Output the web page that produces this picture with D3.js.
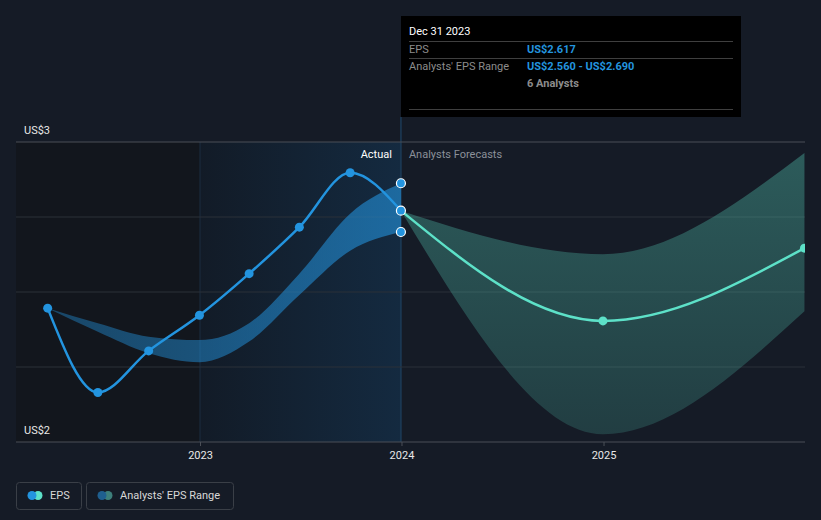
<!DOCTYPE html>
<html><head><meta charset="utf-8">
<script src="https://cdn.jsdelivr.net/npm/d3@7"></script>
<style>
body{margin:0;background:#151b26;}
svg{display:block;font-family:Roboto,"Noto Sans",sans-serif;}
</style>
</head><body>
<svg id="c" width="821" height="520"></svg>
<script>
// ---- data ----
const epsDates   = ["2022-03-31","2022-06-30","2022-09-30","2022-12-31","2023-03-31","2023-06-30","2023-09-30","2023-12-31"];
const epsValues  = [2.357, 2.132, 2.243, 2.338, 2.449, 2.573, 2.718, 2.617];
const bandLow    = [2.357, 2.294, 2.237, 2.213, 2.268, 2.392, 2.510, 2.560];
const bandHigh   = [2.357, 2.317, 2.281, 2.272, 2.317, 2.449, 2.609, 2.690];
const fcDates    = ["2023-12-31","2024-12-31","2025-12-31"];
const fcEps      = [2.617, 2.323, 2.517];
const fcLow      = [2.617, 2.021, 2.349];
const fcHigh     = [2.617, 2.501, 2.771];
const gridValues = [2.0, 2.2, 2.4, 2.6, 2.8];
const yLabelValues = [2.8, 2.0];
const xTickDates = ["2023-01-01","2024-01-01","2025-01-01"];
const tooltipDate = "Dec 31 2023";
const tooltipEps = "US$2.617";
const tooltipRange = "US$2.560 - US$2.690";
const tooltipAnalysts = "6 Analysts";

const parse = d3.timeParse("%Y-%m-%d");
const svg = d3.select("#c");
const L = 16, R = 805, T = 142, B = 442;

const x = d3.scaleTime().domain([parse("2023-01-01"), parse("2026-01-01")]).range([200, R]);
const y = d3.scaleLinear().domain([2.0, 2.8]).range([B, T]);

const hist = epsDates.map((d,i)=>({date:parse(d), v:epsValues[i], lo:bandLow[i], hi:bandHigh[i]}));
const fc = fcDates.map((d,i)=>({date:parse(d), v:fcEps[i], lo:fcLow[i], hi:fcHigh[i]}));

const defs = svg.append("defs");
defs.append("clipPath").attr("id","clip").append("rect")
  .attr("x",L).attr("y",0).attr("width",R-L).attr("height",B);
const hg = defs.append("linearGradient").attr("id","hl").attr("x1","0").attr("x2","1").attr("y1","0").attr("y2","0");
hg.append("stop").attr("offset","0").attr("stop-color","#121b27");
hg.append("stop").attr("offset","1").attr("stop-color","#142a40");
const bg = defs.append("linearGradient").attr("id","bandg").attr("gradientUnits","userSpaceOnUse")
  .attr("x1",40).attr("x2",402).attr("y1",0).attr("y2",0);
bg.append("stop").attr("offset","0").attr("stop-color","#2394df").attr("stop-opacity",0.38);
bg.append("stop").attr("offset","1").attr("stop-color","#2394df").attr("stop-opacity",0.6);
const fg = defs.append("linearGradient").attr("id","fcg").attr("gradientUnits","userSpaceOnUse")
  .attr("x1",0).attr("x2",0).attr("y1",T).attr("y2",B);
fg.append("stop").attr("offset","0").attr("stop-color","#5de1c8").attr("stop-opacity",0.33);
fg.append("stop").attr("offset","1").attr("stop-color","#5de1c8").attr("stop-opacity",0.17);

// backgrounds
const x23 = x(parse("2023-01-01")), xNow = x(parse("2023-12-31"));
svg.append("rect").attr("x",L).attr("y",T).attr("width",x23-L).attr("height",B-T).attr("fill","#12161d");
svg.append("rect").attr("x",x23).attr("y",T).attr("width",xNow-x23).attr("height",B-T).attr("fill","url(#hl)");
svg.append("line").attr("x1",x23).attr("x2",x23).attr("y1",T).attr("y2",B).attr("stroke","#1a2d40").attr("stroke-width",1);
svg.append("line").attr("x1",xNow).attr("x2",xNow).attr("y1",117).attr("y2",B).attr("stroke","#1d3b57").attr("stroke-width",1.5);

// gridlines
svg.append("g").selectAll("line").data(gridValues).join("line")
  .attr("x1",L).attr("x2",R).attr("y1",d=>y(d)).attr("y2",d=>y(d))
  .attr("stroke",(d,i)=> (i===0||i===gridValues.length-1) ? "#4b4f57" : "#2b3039")
  .attr("stroke-width",1);

// y labels
svg.append("g").selectAll("text").data(yLabelValues).join("text")
  .attr("x",24).attr("y",d=>y(d)-8).attr("fill","#e8e8e8").attr("font-size",11)
  .text(d=>"US$"+d3.format(".0f")(d));

// x axis
const xa = svg.append("g").attr("transform",`translate(0,${B})`)
  .call(d3.axisBottom(x).tickValues(xTickDates.map(parse)).tickFormat(d3.timeFormat("%Y")).tickSize(4).tickPadding(5));
xa.select(".domain").remove();
xa.selectAll(".tick line").attr("stroke","#4b4f57");
xa.selectAll(".tick text").attr("fill","#e8e8e8").attr("font-size",11).attr("font-family","Roboto,sans-serif");

// chart content clipped
const g = svg.append("g").attr("clip-path","url(#clip)");
const area = d3.area().x(d=>x(d.date)).y0(d=>y(d.lo)).y1(d=>y(d.hi)).curve(d3.curveMonotoneX);
const line = d3.line().x(d=>x(d.date)).y(d=>y(d.v)).curve(d3.curveMonotoneX);

g.append("path").datum(fc).attr("d",area).attr("fill","url(#fcg)");
g.append("path").datum(hist).attr("d",area).attr("fill","url(#bandg)");
g.append("path").datum(hist).attr("d",line).attr("fill","none").attr("stroke","#2394df").attr("stroke-width",2.5);
g.append("path").datum(fc).attr("d",line).attr("fill","none").attr("stroke","#5de1c8").attr("stroke-width",2.5);

g.append("g").selectAll("circle").data(hist.slice(0,-1)).join("circle")
  .attr("cx",d=>x(d.date)).attr("cy",d=>y(d.v)).attr("r",4.5).attr("fill","#2394df");
g.append("g").selectAll("circle").data(fc.slice(1)).join("circle")
  .attr("cx",d=>x(d.date)).attr("cy",d=>y(d.v)).attr("r",4.5).attr("fill","#5de1c8");
const last = hist[hist.length-1];
g.append("g").selectAll("circle").data([last.hi,last.v,last.lo]).join("circle")
  .attr("cx",x(last.date)).attr("cy",d=>y(d)).attr("r",4.5).attr("fill","#2394df")
  .attr("stroke","#ffffff").attr("stroke-width",1.2);

// section labels
svg.append("text").attr("x",xNow-9).attr("y",158).attr("text-anchor","end")
  .attr("fill","#ffffff").attr("font-size",11).text("Actual");
svg.append("text").attr("x",xNow+8).attr("y",158)
  .attr("fill","#8b9099").attr("font-size",11).text("Analysts Forecasts");

// tooltip
const tt = svg.append("g");
tt.append("rect").attr("x",401).attr("y",16).attr("width",340).attr("height",101).attr("fill","#000000");
[41.5,58.5,109.5].forEach(yy=>tt.append("line").attr("x1",409).attr("x2",733).attr("y1",yy).attr("y2",yy).attr("stroke","#3f3f3f"));
tt.append("text").attr("x",409).attr("y",35).attr("fill","#ffffff").attr("font-size",11).text(tooltipDate);
tt.append("text").attr("x",409).attr("y",53).attr("fill","#8c8c8c").attr("font-size",11).text("EPS");
tt.append("text").attr("x",527).attr("y",53).attr("fill","#2394df").attr("font-size",11).attr("font-weight","bold").text(tooltipEps);
tt.append("text").attr("x",409).attr("y",70).attr("fill","#8c8c8c").attr("font-size",11).text("Analysts' EPS Range");
tt.append("text").attr("x",527).attr("y",70).attr("fill","#2394df").attr("font-size",11).attr("font-weight","bold").text(tooltipRange);
tt.append("text").attr("x",527).attr("y",87).attr("fill","#8c8c8c").attr("font-size",11).attr("font-weight","bold").text(tooltipAnalysts);

// legend
const lg = svg.append("g");
const items = [
  {x:16, w:65, c1:"#2394df", c2:"#5de1c8", label:"EPS"},
  {x:86, w:147, c1:"#1f5f8f", c2:"#3d7f7b", label:"Analysts' EPS Range"}
];
items.forEach(it=>{
  lg.append("rect").attr("x",it.x+0.5).attr("y",482.5).attr("width",it.w).attr("height",27).attr("rx",3)
    .attr("fill","none").attr("stroke","#3a3f47");
  lg.append("circle").attr("cx",it.x+22).attr("cy",495.5).attr("r",4.5).attr("fill",it.c2);
  lg.append("circle").attr("cx",it.x+16).attr("cy",495.5).attr("r",4.5).attr("fill",it.c1);
  lg.append("text").attr("x",it.x+34).attr("y",499).attr("fill","#d8d8d8").attr("font-size",11).text(it.label);
});
</script>
</body></html>
